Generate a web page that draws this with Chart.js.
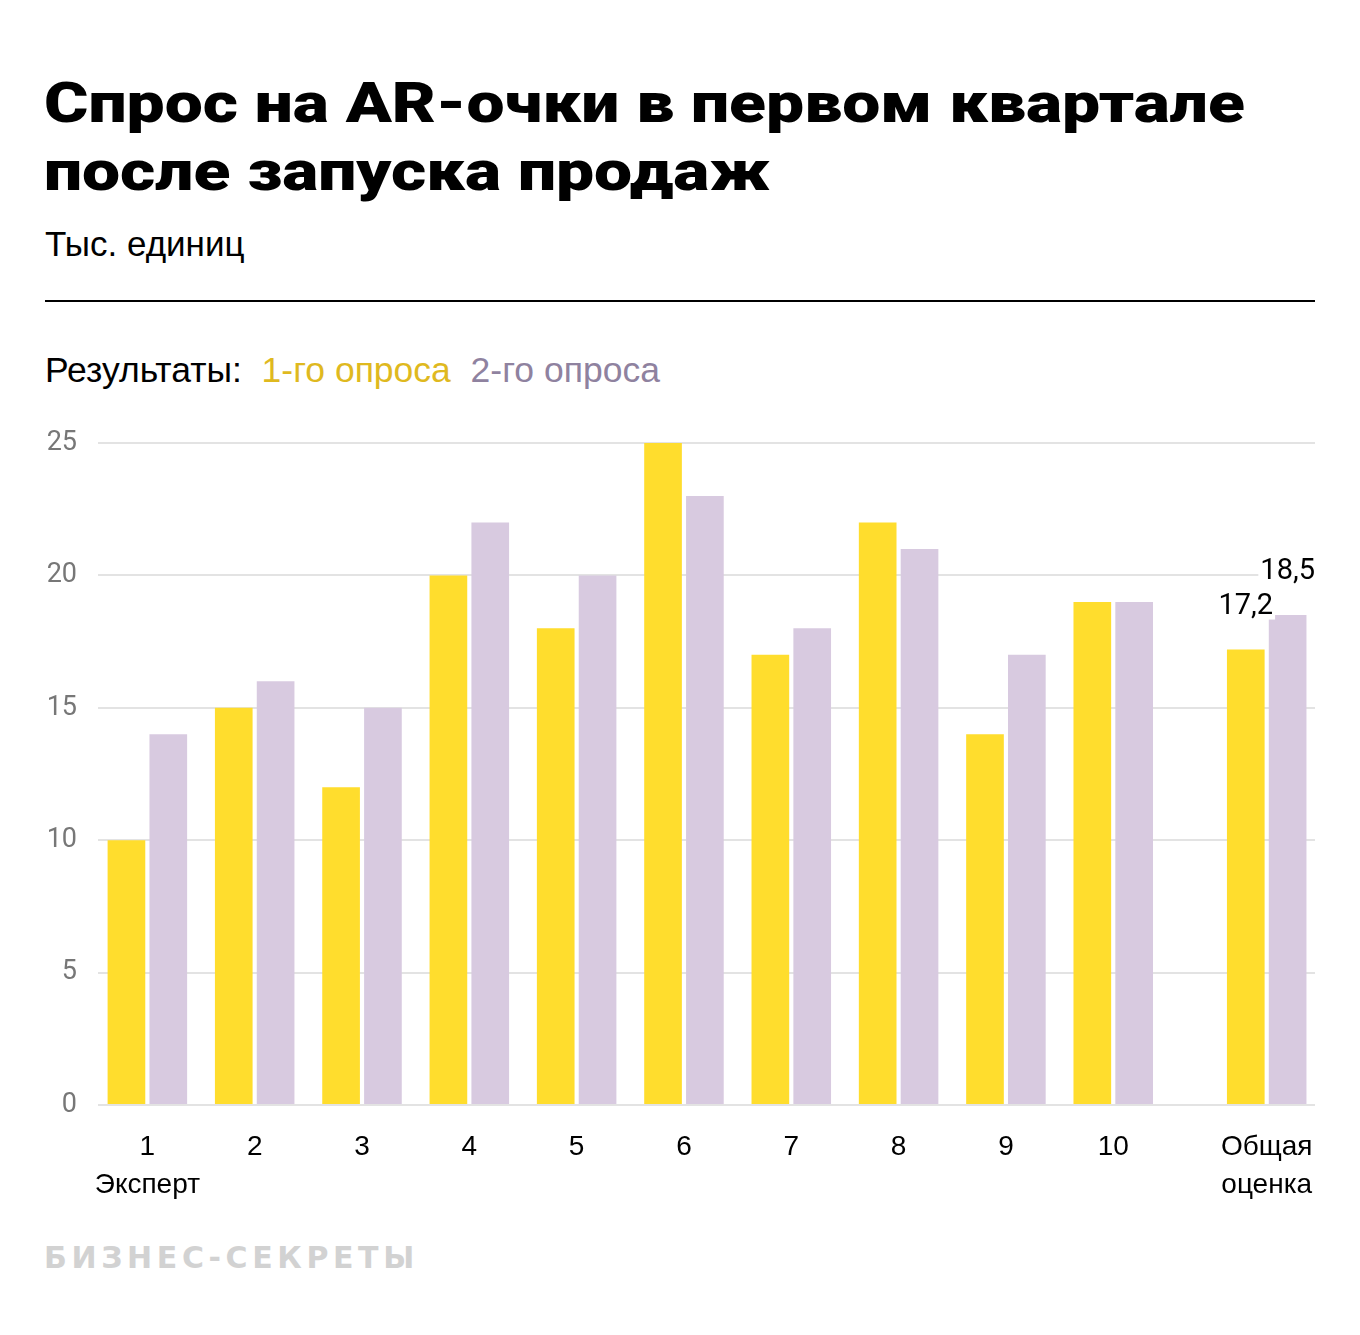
<!DOCTYPE html>
<html lang="ru">
<head>
<meta charset="utf-8">
<script src="https://cdn.jsdelivr.net/npm/chart.js@4"></script>
<style>
    html, body { margin: 0; padding: 0; background: #fff; }
    body { width: 1360px; height: 1335px; position: relative; overflow: hidden; }
    .title {
        position: absolute; left: 44px; top: 69px; margin: 0;
        font-family: Roboto, "Liberation Sans", sans-serif;
        font-weight: 900; font-size: 56px; line-height: 68px; color: #000;
        white-space: nowrap;
        transform: scaleX(1.21); transform-origin: left top;
    }
    .subtitle {
        position: absolute; left: 45px; top: 224px;
        font-family: "Liberation Sans Narrow", "Liberation Sans", sans-serif;
        font-size: 35px; line-height: 40px; color: #000;
    }
    .rule { position: absolute; left: 45px; top: 300px; width: 1270px; height: 2px; background: #000; }
    .legend {
        position: absolute; left: 45px; top: 350px;
        font-family: "Liberation Sans Narrow", "Liberation Sans", sans-serif;
        font-size: 35.5px; line-height: 40px; color: #000; white-space: pre;
    }
    .legend .s1 { color: #dfb91f; }
    .legend .s2 { color: #8f829f; }
    .logo {
        position: absolute; left: 44px; top: 1240px;
        font-family: "DejaVu Sans", sans-serif; font-weight: 700;
        font-size: 30px; letter-spacing: 4.6px; color: #d2d2d2;
    }
    #chartBox { position: absolute; left: 0; top: 400px; width: 1360px; height: 815px; }
</style>
</head>
<body>
<h1 class="title">Спрос на AR-очки в первом квартале<br>после запуска продаж</h1>
<div class="subtitle">Тыс. единиц</div>
<div class="rule"></div>
<div class="legend">Результаты:  <span class="s1">1-го опроса</span>  <span class="s2">2-го опроса</span></div>
<div id="chartBox"><canvas id="chart"></canvas></div>
<div class="logo">БИЗНЕС-СЕКРЕТЫ</div>

<script>
    const categoryLabels = [['1', 'Эксперт'], '2', '3', '4', '5', '6', '7', '8', '9', '10', ['Общая', 'оценка']];
    const firstSurvey = [10, 15, 12, 20, 18, 25, 17, 22, 14, 19, 17.2];
    const secondSurvey = [14, 16, 15, 22, 20, 23, 18, 21, 17, 19, 18.5];
    const yTicks = [0, 5, 10, 15, 20, 25];
    const labelledIndex = 10; // only the overall score carries value labels

    // the overall score sits a bit further right than a regular slot
    const TOTAL_EXTRA_GAP = 0.43;
    function slotOf(i) {
        return i + 1 + (i === labelledIndex ? TOTAL_EXTRA_GAP : 0);
    }
    const slots = categoryLabels.map(function (_, i) { return slotOf(i); });

    function toPoints(values) {
        return values.map(function (v, i) { return { x: slots[i], y: v }; });
    }

    const valueLabels = {
        id: 'valueLabels',
        afterDatasetsDraw: function (chart) {
            const ctx = chart.ctx;
            ctx.save();
            ctx.font = '29px Roboto, "Liberation Sans", sans-serif';
            ctx.textAlign = 'center';
            ctx.textBaseline = 'alphabetic';
            chart.data.datasets.forEach(function (ds, di) {
                const bar = chart.getDatasetMeta(di).data[labelledIndex];
                const text = String(ds.data[labelledIndex].y).replace('.', ',');
                const w = ctx.measureText(text).width;
                const baseY = bar.y - 36;
                ctx.fillStyle = '#fff';
                ctx.fillRect(bar.x - w / 2 - 2, baseY - 24, w + 4, 30);
                ctx.fillStyle = '#000';
                ctx.fillText(text, bar.x, baseY);
            });
            ctx.restore();
        }
    };

    new Chart(document.getElementById('chart'), {
        type: 'bar',
        data: {
            datasets: [
                {
                    label: '1-го опроса',
                    data: toPoints(firstSurvey),
                    backgroundColor: '#ffdd2d',
                    categoryPercentage: 0.78,
                    barPercentage: 0.9
                },
                {
                    label: '2-го опроса',
                    data: toPoints(secondSurvey),
                    backgroundColor: '#d8cae0',
                    categoryPercentage: 0.78,
                    barPercentage: 0.9
                }
            ]
        },
        options: {
            responsive: true,
            maintainAspectRatio: false,
            animation: false,
            layout: { padding: { top: 43, right: 45, left: 0, bottom: 0 } },
            plugins: {
                legend: { display: false },
                tooltip: { enabled: false }
            },
            scales: {
                x: {
                    type: 'linear',
                    offset: false,
                    min: 0.54,
                    max: 11.88,
                    grid: { display: false },
                    border: { display: false },
                    afterBuildTicks: function (scale) {
                        scale.ticks = slots.map(function (s) { return { value: s }; });
                    },
                    afterFit: function (scale) { scale.height = 110; },
                    ticks: {
                        autoSkip: false,
                        maxRotation: 0,
                        padding: 15,
                        color: '#000',
                        font: { family: '"Liberation Sans Narrow", "Liberation Sans", sans-serif', size: 28, lineHeight: 1.36 },
                        callback: function (value, index) { return categoryLabels[index]; }
                    }
                },
                y: {
                    min: 0,
                    max: 25,
                    afterBuildTicks: function (scale) {
                        scale.ticks = yTicks.map(function (v) { return { value: v }; });
                    },
                    afterFit: function (scale) { scale.width = 98; },
                    grid: { color: '#e3e3e3', lineWidth: 2, drawTicks: false },
                    border: { display: false },
                    ticks: {
                        padding: 21,
                        color: '#777',
                        font: { family: 'Roboto, sans-serif', size: 27 }
                    }
                }
            }
        },
        plugins: [valueLabels]
    });
</script>
</body>
</html>
